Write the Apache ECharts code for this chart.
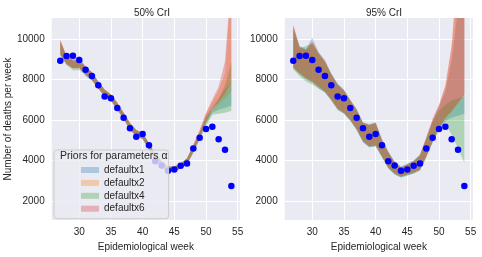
<!DOCTYPE html>
<html><head><meta charset="utf-8">
<script src="https://cdn.jsdelivr.net/npm/echarts@6/dist/echarts.min.js"></script>
<style>html,body{margin:0;padding:0;background:#fff}#c{width:482px;height:257px}</style>
</head><body><div id="c"></div>
<script>
const weeks = [27,28,29,30,31,32,33,34,35,36,37,38,39,40,41,42,43,44,45,46,47,48,49,50,51,52,53,54];
const deaths = [8920,9150,9165,8950,8480,8170,7710,7150,7070,6580,6110,5580,5170,5300,4750,3960,3750,3490,3550,3730,3850,4580,5120,5550,5665,5045,4520,2740];
const priorNames = ['defaultx1','defaultx2','defaultx4','defaultx6'];
const xTicks = [30,35,40,45,50,55];
const yTicks = [2000,4000,6000,8000,10000];
const panelTitles = ['50% CrI','95% CrI'];

// 50% credible intervals
const ci50_x1_lo = [9200,8750,8550,8600,8150,7950,7550,7150,6950,6500,6050,5500,5200,5050,4550,4000,3650,3450,3450,3600,3800,4400,5050,5800,6350,6500,6600,6700];
const ci50_x1_hi = [9900,9150,9000,9150,8600,8350,7900,7500,7250,6850,6350,5850,5500,5350,4850,4300,3950,3700,3700,3850,4100,4700,5400,6200,6650,7050,7500,7900];
const ci50_x2_lo = [9250,8750,8550,8550,8250,7950,7550,7150,6950,6500,6050,5500,5200,5050,4550,4000,3650,3450,3450,3600,3800,4400,5100,5850,6450,6750,7050,7400];
const ci50_x2_hi = [9950,9150,8950,8950,8650,8350,7900,7500,7250,6850,6350,5850,5500,5350,4850,4300,3950,3700,3700,3850,4100,4750,5450,6300,6900,7450,8300,12800];
const ci50_x4_lo = [9200,8700,8450,8450,8200,7950,7550,7150,6950,6500,6050,5500,5200,5050,4550,4000,3650,3450,3450,3600,3800,4350,5000,5700,6250,6300,6350,6450];
const ci50_x4_hi = [9850,9100,8900,8900,8600,8350,7900,7500,7250,6850,6350,5850,5500,5350,4850,4300,3950,3700,3700,3850,4100,4700,5350,6100,6500,7000,7700,8850];
const ci50_x6_lo = [9250,8750,8550,8550,8250,7950,7550,7150,6950,6500,6050,5500,5200,5050,4550,4000,3650,3450,3450,3600,3800,4450,5150,5900,6550,6900,7300,7900];
const ci50_x6_hi = [9950,9150,8950,8950,8650,8350,7900,7500,7250,6850,6350,5850,5500,5350,4850,4300,3950,3700,3700,3850,4100,4800,5500,6350,7000,7650,8900,13000];

// 95% credible intervals
const ci95_x1_lo = [8550,8250,8000,7850,7550,7350,6950,6500,6300,5950,5500,4900,4650,4700,4150,3600,3300,3150,3250,3350,3500,4150,4900,5550,5950,6100,6200,6300];
const ci95_x1_hi = [10600,9650,9500,10050,9350,8950,8300,7800,7500,7000,6550,5900,5800,5900,5050,4450,3950,3700,3850,4000,4300,5100,5950,6650,7400,8900,11500,15000];
const ci95_x2_lo = [8600,8300,8050,7900,7650,7400,7000,6550,6350,6000,5550,4950,4700,4750,4200,3650,3350,3200,3300,3400,3550,4150,4900,5550,6050,6400,6800,7200];
const ci95_x2_hi = [10700,9600,9450,9850,9300,8900,8250,7750,7450,6950,6500,5850,5750,5850,5000,4400,3900,3650,3800,3950,4250,5100,6000,6700,7600,9500,13000,20000];
const ci95_x4_lo = [8500,8150,7900,7750,7550,7350,6950,6500,6300,5950,5500,4900,4650,4700,4150,3600,3300,3150,3250,3350,3500,4200,4900,5500,5850,5250,4600,3870];
const ci95_x4_hi = [10500,9550,9650,9750,9250,8850,8250,7750,7450,6950,6500,5850,5750,5850,5000,4400,3900,3650,3800,3950,4250,5050,5900,6450,6750,6950,7050,7150];
const ci95_x6_lo = [8600,8300,8050,7900,7650,7400,7000,6550,6350,6000,5550,4950,4700,4750,4200,3650,3350,3200,3300,3400,3550,4200,4950,5600,6100,6450,6850,7250];
const ci95_x6_hi = [10700,9600,9450,9850,9300,8900,8250,7750,7450,6950,6500,5850,5750,5850,5000,4400,3900,3650,3800,3950,4250,5150,6050,6750,7700,9700,14000,22000];

const bands = [
  [[ci50_x1_lo,ci50_x1_hi],[ci50_x2_lo,ci50_x2_hi],[ci50_x4_lo,ci50_x4_hi],[ci50_x6_lo,ci50_x6_hi]],
  [[ci95_x1_lo,ci95_x1_hi],[ci95_x2_lo,ci95_x2_hi],[ci95_x4_lo,ci95_x4_hi],[ci95_x6_lo,ci95_x6_hi]]
];
const colors = ['rgba(31,119,180,0.3)','rgba(255,127,14,0.3)','rgba(44,160,44,0.3)','rgba(214,39,40,0.3)'];

const FONT = '"Liberation Sans", Arial, sans-serif';
const TXT = '#262626';
const grids = [
  {left:51.7, top:18, width:188.2, height:203.3, show:true, backgroundColor:'#EAEAF2', borderWidth:0},
  {left:284.7, top:18, width:188.2, height:203.3, show:true, backgroundColor:'#EAEAF2', borderWidth:0}
];
const xAxes = [0,1].map(i => ({
  type:'value', gridIndex:i, min:25.65, max:55.35,
  name:'Epidemiological week', nameLocation:'middle', nameGap:19,
  nameTextStyle:{fontFamily:FONT, fontSize:10, color:TXT},
  axisLine:{show:false}, axisTick:{show:false, customValues:xTicks},
  axisLabel:{customValues:xTicks, fontFamily:FONT, fontSize:10, color:TXT, margin:7, formatter: v => String(v)},
  splitLine:{show:true, lineStyle:{color:'#ffffff', width:1}}
}));
const yAxes = [0,1].map(i => ({
  type:'value', gridIndex:i, min:1050, max:11030,
  name: i===0 ? 'Number of deaths per week' : '', nameLocation:'middle', nameGap:30,
  nameTextStyle:{fontFamily:FONT, fontSize:10, color:TXT},
  axisLine:{show:false}, axisTick:{show:false, customValues:yTicks},
  axisLabel:{customValues:yTicks, fontFamily:FONT, fontSize:10, color:TXT, margin:7, formatter: v => String(v)},
  splitLine:{show:true, lineStyle:{color:'#ffffff', width:1}}
}));

function bandRenderer(lo, hi, color) {
  return function (params, api) {
    if (params.dataIndex !== 0) return null;
    const pts = [];
    for (let k = 0; k < weeks.length; k++) pts.push(api.coord([weeks[k], hi[k]]));
    for (let k = weeks.length - 1; k >= 0; k--) pts.push(api.coord([weeks[k], lo[k]]));
    const cs = params.coordSys;
    return {
      type:'polygon',
      shape:{points:pts},
      style:{fill:color},
      clipPath:{type:'rect', shape:{x:cs.x, y:cs.y, width:cs.width, height:cs.height}},
      silent:true
    };
  };
}

const series = [];
for (let g=0; g<2; g++) {
  for (let p=0; p<4; p++) {
    const lo = bands[g][p][0], hi = bands[g][p][1];
    series.push({
      type:'custom', name:priorNames[p], xAxisIndex:g, yAxisIndex:g,
      data: weeks.map((w,k)=>[w, lo[k], hi[k]]),
      encode:{x:0, y:[1,2]},
      itemStyle:{color:colors[p]},
      renderItem: bandRenderer(lo, hi, colors[p]),
      silent:true, z:2
    });
  }
  series.push({
    type:'scatter', xAxisIndex:g, yAxisIndex:g, name:'observed',
    data: weeks.map((w,k)=>[w, deaths[k]]), symbolSize:6.5,
    itemStyle:{color:'#0000ff', opacity:1}, z:5
  });
}

const chart = echarts.init(document.getElementById('c'), null, {renderer:'canvas'});
chart.setOption({
  animation:false,
  backgroundColor:'#ffffff',
  title: [
    {text:panelTitles[0], left:147, top:3, textAlign:'center', textStyle:{fontFamily:FONT, fontSize:10, fontWeight:'normal', color:TXT}},
    {text:panelTitles[1], left:379, top:3, textAlign:'center', textStyle:{fontFamily:FONT, fontSize:10, fontWeight:'normal', color:TXT}}
  ],
  grid: grids, xAxis: xAxes, yAxis: yAxes,
  legend: {
    data: priorNames.map((n,i)=>({name:n, itemStyle:{color:colors[i]}})),
    orient:'vertical', left:54, top:150, z:10,
    icon:'rect', itemWidth:18, itemHeight:6, itemGap:0.9,
    padding:[14, 24, 4, 27],
    backgroundColor:'rgba(234,234,242,0.8)', borderColor:'#cccccc', borderWidth:1, borderRadius:3,
    textStyle:{fontFamily:FONT, fontSize:10, color:TXT, lineHeight:12},
    selectedMode:false
  },
  graphic: [{
    type:'text', left:60, top:151, z:100,
    style:{text:'Priors for parameters α', font:'10.5px "Liberation Sans", Arial, sans-serif', fill:TXT}
  }],
  series: series
});
</script></body></html>
